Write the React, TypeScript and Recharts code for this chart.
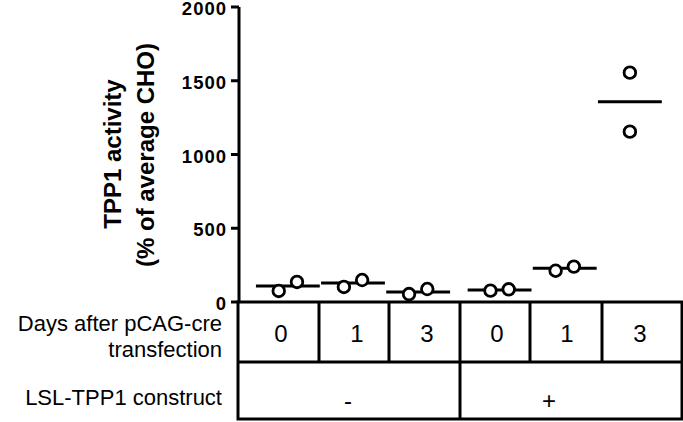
import React from 'react';
import { ComposedChart, Scatter, XAxis, YAxis, ReferenceLine } from 'recharts';

const W = 683;
const H = 422;
const FONT = '"Liberation Sans", Arial, Helvetica, sans-serif';

const dayLabels = ['0', '1', '3', '0', '1', '3'];
const constructLabels = ['-', '+'];
const rowLabels = ['Days after pCAG-cre', 'transfection', 'LSL-TPP1 construct'];
const groupPos = [1, 2, 3, 4.25, 5.25, 6.25];
const replicateA = [75, 102, 54, 77, 212, 1555];
const replicateB = [136, 149, 88, 86, 240, 1155];
const groupMeans = [109, 129, 68, 81, 228, 1358];
const yTicks = [0, 500, 1000, 1500, 2000];
const yLabel = ['TPP1 activity', '(% of average CHO)'];

const points = groupPos.flatMap((x, i) => {
  const separated = Math.abs(replicateA[i] - replicateB[i]) > 200;
  const d = separated ? 0 : 0.14;
  return [
    { x: x - d, y: replicateA[i] },
    { x: x + d, y: replicateB[i] },
  ];
});

const Circle = (props: any) => (
  <circle cx={props.cx} cy={props.cy} r={5.8} fill="#fff" stroke="#000" strokeWidth={2.8} />
);

// table layout (pixels)
const tTop = 302;
const tMid = 362;
const tBot = 419;
const tLeft = 238;
const tRight = 682;
const colEdges = [238, 319, 389, 460, 530, 602, 682];
const dayTextX = [281, 357, 427, 497, 567, 640];
const constructTextX = [348, 549];

export default function App() {
  return (
    <div style={{ position: 'absolute', left: 0, top: 0, width: W, height: H, background: '#fff' }}>
      <ComposedChart width={W} height={H} margin={{ top: 7, right: 1, bottom: 120, left: 0 }}>
        <XAxis type="number" dataKey="x" domain={[0.25, 7.05]} hide />
        <YAxis
          type="number"
          dataKey="y"
          width={239}
          domain={[0, 2000]}
          ticks={yTicks}
          interval={0}
          tickSize={8}
          tickMargin={4}
          tick={{ fill: '#000', fontSize: 18.5, fontWeight: 'bold', fontFamily: FONT, letterSpacing: 1, dy: 1.5 }}
          tickLine={{ stroke: '#000', strokeWidth: 3 }}
          axisLine={{ stroke: '#000', strokeWidth: 3 }}
        />
        {groupPos.map((x, i) => (
          <ReferenceLine
            key={i}
            segment={[
              { x: x - 0.49, y: groupMeans[i] },
              { x: x + 0.49, y: groupMeans[i] },
            ]}
            stroke="#000"
            strokeWidth={3}
          />
        ))}
        <Scatter data={points} dataKey="y" shape={Circle} isAnimationActive={false} />
      </ComposedChart>
      <svg
        width={W}
        height={H}
        style={{ position: 'absolute', left: 0, top: 0, pointerEvents: 'none' }}
        fontFamily={FONT}
      >
        <g transform="translate(112,154) rotate(-90)">
          <text textAnchor="middle" dominantBaseline="central" fontSize={24} fontWeight="bold" fill="#000">
            {yLabel[0]}
          </text>
        </g>
        <g transform="translate(145,155) rotate(-90)">
          <text textAnchor="middle" dominantBaseline="central" fontSize={24} fontWeight="bold" fill="#000">
            {yLabel[1]}
          </text>
        </g>
        <rect x={tLeft} y={tTop} width={tRight - tLeft} height={tBot - tTop} fill="none" stroke="#000" strokeWidth={3} />
        <line x1={tLeft} y1={tMid} x2={tRight} y2={tMid} stroke="#000" strokeWidth={3} />
        {colEdges.slice(1, -1).map((x, i) => (
          <line key={i} x1={x} y1={tTop} x2={x} y2={i === 2 ? tBot : tMid} stroke="#000" strokeWidth={3} />
        ))}
        {dayLabels.map((d, i) => (
          <text key={i} x={dayTextX[i]} y={333} textAnchor="middle" dominantBaseline="central" fontSize={24} fill="#000">
            {d}
          </text>
        ))}
        {constructLabels.map((d, i) => (
          <text key={i} x={constructTextX[i]} y={400} textAnchor="middle" dominantBaseline="central" fontSize={24} fill="#000">
            {d}
          </text>
        ))}
        <text x={222} y={323} textAnchor="end" dominantBaseline="central" fontSize={22} fill="#000">{rowLabels[0]}</text>
        <text x={222} y={349} textAnchor="end" dominantBaseline="central" fontSize={22} fill="#000">{rowLabels[1]}</text>
        <text x={222} y={397} textAnchor="end" dominantBaseline="central" fontSize={22} fill="#000">{rowLabels[2]}</text>
      </svg>
    </div>
  );
}
